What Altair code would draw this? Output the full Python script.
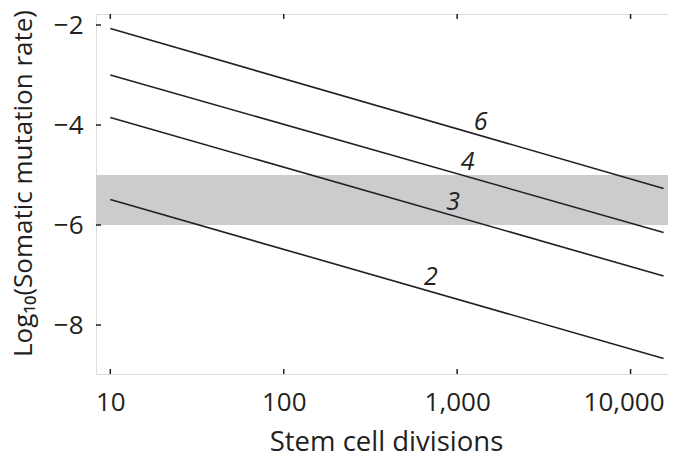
import altair as alt
import pandas as pd

# ---- data ----
series = ["2", "3", "4", "6"]
x_start = [10, 10, 10, 10]
x_end = [15500, 15500, 15500, 15500]
y_start = [-5.49, -3.85, -3.00, -2.07]
y_end = [-8.67, -7.02, -6.15, -5.27]

label_x = [705, 948, 1148, 1365]
label_y = [-7.03, -5.53, -4.74, -3.93]

band_lo = [-6.0]
band_hi = [-5.0]

x_ticks = [10, 100, 1000, 10000]
y_ticks = [-2, -4, -6, -8]

x_domain = [8.27, 18280]
y_domain = [-8.98, -1.78]

W, H = 580, 360
FONT = "Open Sans"
INK = "#231f20"

rows = []
for s, xs, xe, ys, ye in zip(series, x_start, x_end, y_start, y_end):
    rows.append({"k": s, "x": xs, "y": ys})
    rows.append({"k": s, "x": xe, "y": ye})
lines_df = pd.DataFrame(rows)
labels_df = pd.DataFrame({"k": series, "x": label_x, "y": label_y})
band_df = pd.DataFrame({"x": [x_domain[0]], "x2": [x_domain[1]], "y": band_lo, "y2": band_hi})
xt_df = pd.DataFrame({"x": x_ticks})
yt_df = pd.DataFrame({"y": y_ticks})

xscale = alt.Scale(type="log", domain=x_domain, nice=False)
yscale = alt.Scale(domain=y_domain, nice=False, zero=False)

xaxis = alt.Axis(values=x_ticks, format=",", title="Stem cell divisions",
                 domain=False, ticks=False, tickSize=0, grid=False,
                 labelFont=FONT, labelFontSize=26, labelColor=INK,
                 labelPadding=15,
                 labelOffset=alt.condition("datum.value == 10000", alt.value(-7), alt.value(0)),
                 titleFont=FONT, titleFontSize=27.5,
                 titleFontWeight="normal", titleColor=INK,
                 titleBaseline="alphabetic", titleAlign="center",
                 titleY=76)
yaxis = alt.Axis(values=y_ticks, title="Log₁₀(Somatic mutation rate)",
                 domain=False, ticks=False, tickSize=0, grid=False,
                 labelFont=FONT, labelFontSize=26, labelColor=INK,
                 labelPadding=13, titleFont=FONT, titleFontSize=26,
                 titleFontWeight="normal", titleColor=INK,
                 titleAngle=270, titleBaseline="alphabetic", titleAlign="center",
                 titleX=-65, titleY=169)

band = alt.Chart(band_df).mark_rect(color="#cbcccd").encode(
    x=alt.X("x:Q", scale=xscale, axis=xaxis),
    x2="x2:Q",
    y=alt.Y("y:Q", scale=yscale, axis=yaxis),
    y2="y2:Q",
)

lines = alt.Chart(lines_df).mark_line(color=INK, strokeWidth=1.6).encode(
    x=alt.X("x:Q", scale=xscale),
    y=alt.Y("y:Q", scale=yscale),
    detail="k:N",
)

labels = alt.Chart(labels_df).mark_text(
    font=FONT, fontSize=25, fontStyle="italic", color=INK,
    align="center", baseline="middle"
).encode(
    x=alt.X("x:Q", scale=xscale),
    y=alt.Y("y:Q", scale=yscale),
    text="k:N",
)

tick_style = dict(color=INK, strokeWidth=1.5)
xt_bottom = alt.Chart(xt_df).mark_rule(**tick_style).encode(
    x=alt.X("x:Q", scale=xscale), y=alt.value(H), y2=alt.value(H - 5))
xt_top = alt.Chart(xt_df).mark_rule(**tick_style).encode(
    x=alt.X("x:Q", scale=xscale), y=alt.value(0), y2=alt.value(5))
yt_left = alt.Chart(yt_df).mark_rule(**tick_style).encode(
    y=alt.Y("y:Q", scale=yscale), x=alt.value(0), x2=alt.value(5))
yt_right = alt.Chart(yt_df).mark_rule(**tick_style).encode(
    y=alt.Y("y:Q", scale=yscale), x=alt.value(W), x2=alt.value(W - 5))

chart = alt.layer(band, lines, labels, xt_bottom, xt_top, yt_left, yt_right).properties(
    width=W, height=H,
    autosize=alt.AutoSizeParams(type="none"),
    padding={"left": 88, "top": 6, "right": -8, "bottom": 79},
).configure_view(stroke=INK, strokeWidth=1.6).configure(background="white")

chart.save("out.html", embed_options={"renderer": "svg", "actions": False})
